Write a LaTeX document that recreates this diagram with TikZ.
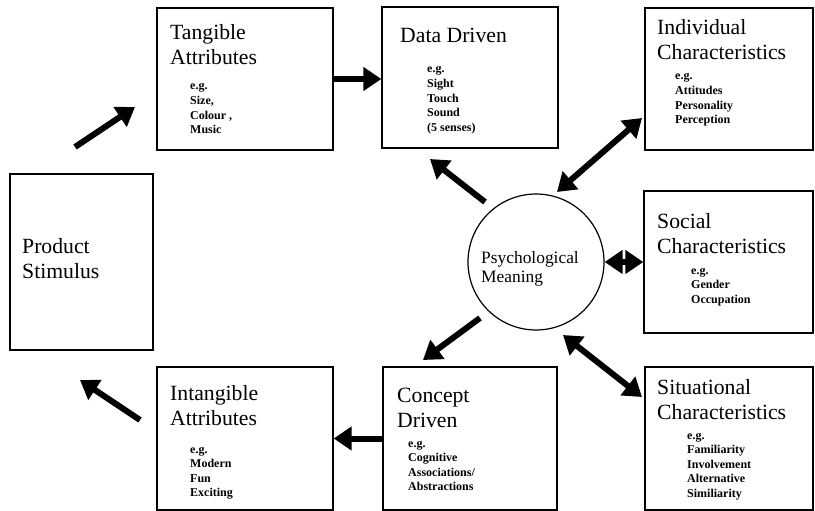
\documentclass[tikz,border=0pt]{standalone}
\usepackage{fontspec}
\setmainfont{Liberation Serif}
\usepackage{tikz}
\usetikzlibrary{
  arrows.meta,
  positioning
}
\newcommand{\ttlfont}{\fontsize{21.7}{25}\selectfont}
\newcommand{\egfont}{\bfseries\fontsize{12}{14.6}\selectfont}
\newcommand{\stack}[1]{\begin{tabular}[t]{@{}l@{}}#1\end{tabular}}

\begin{document}
\begin{tikzpicture}[x=1pt, y=-1pt,
    box/.style={draw, line width=1.3pt, inner sep=0pt},
    ttl/.style={anchor=base west, inner sep=0pt, font=\ttlfont},
    eglist/.style={anchor=base west, inner sep=0pt, font=\egfont},
    flow/.style={line width=6pt, -{Triangle[length=18pt, width=23pt]}},
    both/.style={line width=6pt, {Triangle[length=18pt, width=23pt]}-{Triangle[length=18pt, width=23pt]}}]
    \useasboundingbox (0,0) rectangle (815,511);

    % Boxes
    \node[box, minimum width=143pt, minimum height=176pt] (stim) at (81.5,262) {};
    \node[box, minimum width=176pt, minimum height=142pt] (tang) at (245,79) {};
    \node[box, minimum width=176pt, minimum height=141pt] (data) at (470,77.5) {};
    \node[box, minimum width=168pt, minimum height=142pt] (indiv) at (729,79) {};
    \node[box, minimum width=169pt, minimum height=142pt] (social) at (728.5,262) {};
    \node[box, minimum width=168pt, minimum height=143pt] (situ) at (729,438.5) {};
    \node[box, minimum width=174pt, minimum height=143pt] (concept) at (470,438.5) {};
    \node[box, minimum width=176pt, minimum height=143pt] (intang) at (245,438.5) {};
    \node[draw, circle, line width=1.2pt, minimum size=136pt, inner sep=0pt] (psy) at (536,262) {};

    % Texts (placed at first baseline)
    \node[ttl] (stimT) at (22,253) {\stack{Product\\Stimulus}};
    \node[ttl] (tangT) at (170,40) {\stack{Tangible\\Attributes}};
    \node[eglist] (tangE) at (190,90) {\stack{e.g.\\Size,\\Colour ,\\Music}};
    \node[ttl] (dataT) at (400,43) {Data Driven};
    \node[eglist] (dataE) at (427,73) {\stack{e.g.\\Sight\\Touch\\Sound\\(5 senses)}};
    \node[ttl] (indivT) at (657,35) {\stack{Individual\\Characteristics}};
    \node[eglist] (indivE) at (675,80) {\stack{e.g.\\Attitudes\\Personality\\Perception}};
    \node[ttl] (socialT) at (657,228) {\stack{Social\\Characteristics}};
    \node[eglist] (socialE) at (691,274) {\stack{e.g.\\Gender\\Occupation}};
    \node[ttl] (situT) at (657,394) {\stack{Situational\\Characteristics}};
    \node[eglist] (situE) at (687,439) {\stack{e.g.\\Familiarity\\Involvement\\Alternative\\Similiarity}};
    \node[ttl] (conceptT) at (397,402) {\stack{Concept\\Driven}};
    \node[eglist] (conceptE) at (408,447) {\stack{e.g.\\Cognitive\\Associations/\\Abstractions}};
    \node[ttl] (intangT) at (170,400) {\stack{Intangible\\Attributes}};
    \node[eglist] (intangE) at (190,453) {\stack{e.g.\\Modern\\Fun\\Exciting}};
    \node[anchor=base west, inner sep=0pt, font=\fontsize{17.4}{19}\selectfont] (psyT) at (481,263) {\stack{Psychological\\Meaning}};

    % Arrow ends
    \coordinate (stimOut) at (75,147);
    \coordinate (tangIn) at (135,107);
    \coordinate (psyUp) at (485,202);
    \coordinate (dataIn) at (430,159);
    \coordinate (psyIndiv) at (557,192);
    \coordinate (indivIn) at (642,118);
    \coordinate (psyDown) at (480,318);
    \coordinate (conceptIn) at (423,360);
    \coordinate (psySitu) at (563,335);
    \coordinate (situIn) at (642,397);
    \coordinate (intangOut) at (140,420);
    \coordinate (stimIn) at (80,380);

    % Arrows
    \draw[flow] (stimOut) -- (tangIn);
    \draw[flow] (tang.east) -- (tang.east -| data.west);
    \draw[flow] (psyUp) -- (dataIn);
    \draw[both] (psyIndiv) -- (indivIn);
    \draw[both] (psy.east) -- (psy.east -| social.west);
    \draw[flow] (psyDown) -- (conceptIn);
    \draw[both] (psySitu) -- (situIn);
    \draw[flow] (concept.west) -- (concept.west -| intang.east);
    \draw[flow] (intangOut) -- (stimIn);
\end{tikzpicture}
\end{document}
